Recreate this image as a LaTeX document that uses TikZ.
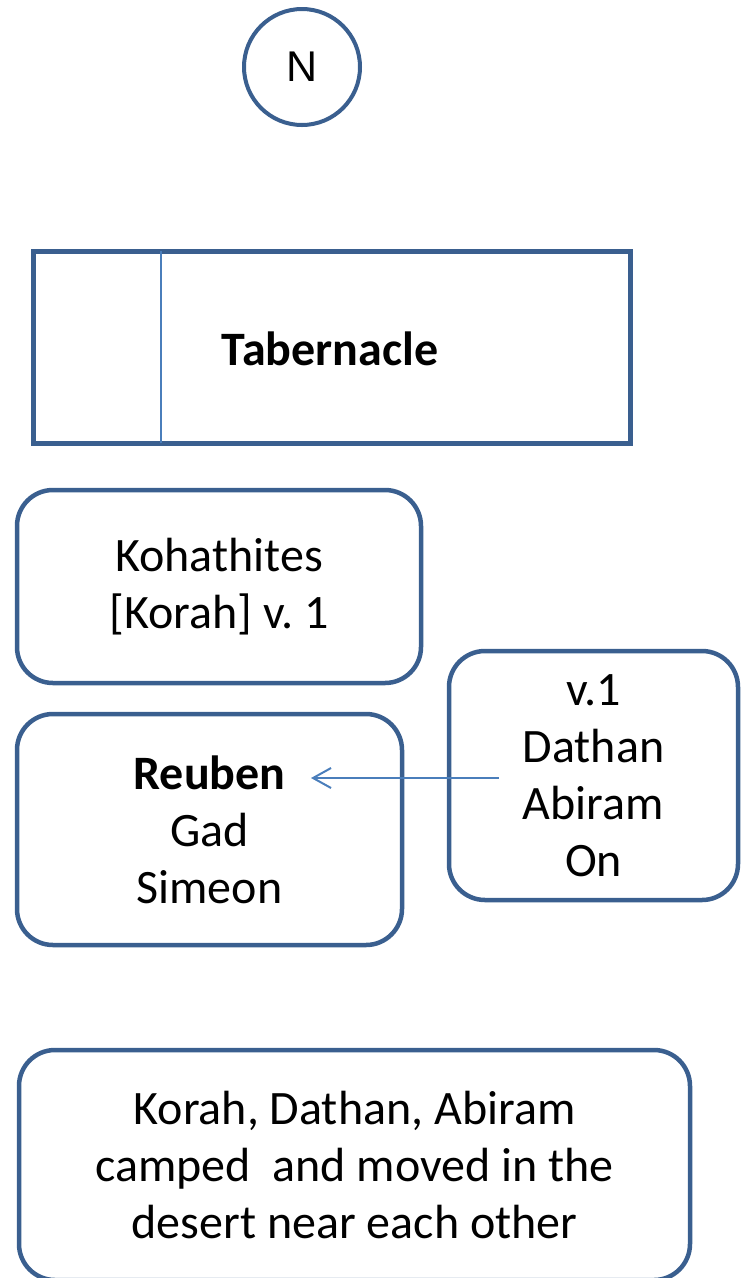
\documentclass[tikz,border=0pt]{standalone}
\usepackage{fontspec}
\setmainfont{Carlito}
\newfontfamily\markfont{Liberation Sans}
\usetikzlibrary{arrows.meta}
\definecolor{edgeblue}{HTML}{3A5F8F}
\definecolor{lineblue}{HTML}{4A7EBB}
\frenchspacing
\begin{document}
\begin{tikzpicture}[x=1pt,y=-1pt,
  txt/.style={font=\fontsize{48}{57}\selectfont, align=center, text=black},
  roundbox/.style={draw=edgeblue, line width=4.5pt, rounded corners=36pt,
    rectangle, inner sep=0pt, txt},
  thinline/.style={draw=lineblue, line width=2pt}]
  \useasboundingbox (0,0) rectangle (746,1278);

  % north marker
  \node[draw=edgeblue, line width=4pt, circle, minimum size=116pt, inner sep=0pt,
    font=\markfont\fontsize{43}{50}\selectfont]
    (north) at (302,67) {N};

  % tabernacle with its inner partition
  \node[draw=edgeblue, line width=5pt, rectangle, inner sep=0pt,
    minimum width=597pt, minimum height=192pt] (tab) at (331.5,347) {};
  \node[txt, font=\bfseries\fontsize{48}{57}\selectfont] (tablabel) at (330,349) {Tabernacle};
  \coordinate (partTop) at (161,251);
  \coordinate (partBot) at (161,443);
  \draw[thinline] (partTop) -- (partBot);

  % camps around the tabernacle
  \node[roundbox, minimum width=404pt, minimum height=193pt] (kohath) at (219,586.5)
    {Kohathites\\{[}Korah{]} v. 1};
  \node[roundbox, minimum width=385pt, minimum height=231pt] (reuben) at (209.5,829.5)
    {\textbf{Reuben}\\Gad\\Simeon};
  \node[roundbox, minimum width=289pt, minimum height=249pt] (rebels) at (593.5,775.5)
    {v.1\\Dathan\\Abiram\\On};
  \node[roundbox, minimum width=671pt, minimum height=230pt] (note) at (354.5,1165)
    {Korah, Dathan, Abiram\\camped\ \ and moved in the\\desert near each other};

  % the rebels belong to the Reuben camp
  \coordinate (arrowFrom) at (499,778);
  \coordinate (arrowTo) at (311,778);
  \draw[thinline, -{Straight Barb[length=18pt, width=20pt, line width=2pt]}]
    (arrowFrom) -- (arrowTo);
\end{tikzpicture}
\end{document}
